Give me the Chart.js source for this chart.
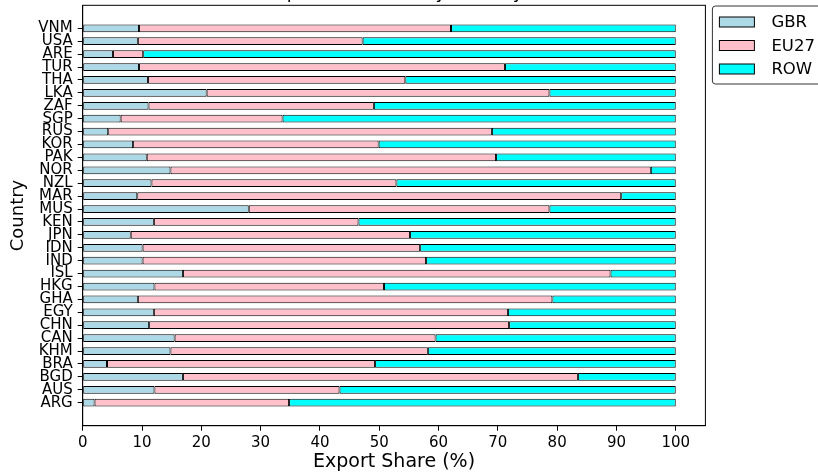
<!DOCTYPE html>
<html>
<head>
<meta charset="utf-8">
<script src="https://cdn.jsdelivr.net/npm/chart.js@4.4.0/dist/chart.umd.min.js"></script>
<style>
html, body { margin: 0; padding: 0; background: #fff; }
</style>
</head>
<body>
<canvas id="shareChart" width="818" height="472"></canvas>
<script>
// bottom to top, same order as the y axis
const countries = ['ARG', 'AUS', 'BGD', 'BRA', 'KHM', 'CAN', 'CHN', 'EGY', 'GHA', 'HKG',
    'ISL', 'IND', 'IDN', 'JPN', 'KEN', 'MUS', 'MAR', 'NZL', 'NOR', 'PAK',
    'KOR', 'RUS', 'SGP', 'ZAF', 'LKA', 'THA', 'TUR', 'ARE', 'USA', 'VNM'];

const gbrShare = [2.0, 12.1, 16.9, 4.1, 14.8, 15.5, 11.2, 12.0, 9.3, 12.1,
    16.9, 10.1, 10.1, 8.1, 12.0, 28.0, 9.2, 11.6, 14.8, 10.8,
    8.5, 4.3, 6.4, 11.1, 20.9, 11.0, 9.5, 5.1, 9.3, 9.5];

const eu27Share = [32.8, 31.2, 66.6, 45.2, 43.4, 44.0, 60.7, 59.7, 69.9, 38.7,
    72.1, 47.8, 46.8, 47.1, 34.5, 50.7, 81.6, 41.3, 81.0, 58.9,
    41.4, 64.7, 27.3, 38.0, 57.8, 43.4, 61.7, 5.1, 37.9, 52.6];

const rowShare = [65.2, 56.7, 16.5, 50.7, 41.8, 40.5, 28.1, 28.3, 20.8, 49.2,
    11.0, 42.1, 43.1, 44.8, 53.5, 21.3, 9.2, 47.1, 4.2, 30.3,
    50.1, 31.0, 66.3, 50.9, 21.3, 45.6, 28.8, 89.8, 52.8, 37.9];

const xTicks = [0, 10, 20, 30, 40, 50, 60, 70, 80, 90, 100];
const seriesNames = ['GBR', 'EU27', 'ROW'];
const seriesColors = ['#add8e6', '#ffc0cb', '#00ffff'];
const chartTitle = 'Export Share (%) by Country';

const fontFamily = '"DejaVu Sans", sans-serif';

function toPoints(values) {
    return values.map((v, i) => ({ x: v, y: i }));
}

// frame round the axes, the cut-off title and the boxed legend
const framePlugin = {
    id: 'framePlugin',
    afterDraw(chart) {
        const ctx = chart.ctx;
        const area = chart.chartArea;
        ctx.save();

        ctx.strokeStyle = '#000';
        ctx.lineWidth = 1;
        ctx.strokeRect(area.left, area.top, area.right - area.left, area.bottom - area.top);

        ctx.fillStyle = '#000';
        ctx.font = '18px ' + fontFamily;
        ctx.textAlign = 'center';
        ctx.textBaseline = 'alphabetic';
        ctx.fillText(chartTitle, (area.left + area.right) / 2, -2);

        // legend
        const bx = area.right + 7, by = 6;
        ctx.beginPath();
        ctx.roundRect(bx, by, 140, 78, 3);
        ctx.fillStyle = '#fff';
        ctx.fill();
        ctx.strokeStyle = '#333';
        ctx.stroke();

        ctx.font = '16.5px ' + fontFamily;
        ctx.textAlign = 'left';
        ctx.textBaseline = 'middle';
        chart.data.datasets.forEach((ds, i) => {
            const cy = by + 16 + i * 23.5;
            ctx.fillStyle = ds.backgroundColor;
            ctx.fillRect(bx + 7, cy - 5, 35, 10);
            ctx.strokeStyle = '#000';
            ctx.strokeRect(bx + 7, cy - 5, 35, 10);
            ctx.fillStyle = '#000';
            ctx.fillText(ds.label, bx + 59, cy + 1);
        });
        ctx.restore();
    }
};

const chart = new Chart(document.getElementById('shareChart').getContext('2d'), {
    type: 'bar',
    data: {
        datasets: [gbrShare, eu27Share, rowShare].map((values, i) => ({
            label: seriesNames[i],
            data: toPoints(values),
            backgroundColor: seriesColors[i],
            borderColor: '#000',
            borderWidth: 1,
            borderSkipped: false,
            categoryPercentage: 1,
            barPercentage: 0.6
        }))
    },
    options: {
        indexAxis: 'y',
        responsive: false,
        animation: false,
        layout: { padding: { left: 0, right: 112.6, top: 5.3, bottom: 0 } },
        plugins: {
            legend: { display: false },
            tooltip: { enabled: false },
            title: { display: false }
        },
        scales: {
            x: {
                type: 'linear',
                stacked: true,
                min: 0,
                max: 105,
                afterBuildTicks: (scale) => { scale.ticks = xTicks.map(v => ({ value: v })); },
                afterFit: (scale) => {
                    scale.height = 46.3;
                    scale.paddingLeft = 0;
                    scale.paddingRight = 0;
                },
                grid: { drawOnChartArea: false, tickLength: 5, color: '#000' },
                border: { display: true, color: '#000' },
                ticks: { color: '#000', padding: 3, font: { family: fontFamily, size: 15 } },
                title: {
                    display: true,
                    text: 'Export Share (%)',
                    color: '#000',
                    padding: { top: 0, bottom: 0 },
                    font: { family: fontFamily, size: 19, lineHeight: 1 }
                }
            },
            y: {
                type: 'linear',
                stacked: true,
                offset: false,
                min: -1.78,
                max: 30.78,
                afterBuildTicks: (scale) => { scale.ticks = countries.map((c, i) => ({ value: i })); },
                afterFit: (scale) => {
                    scale.width = 82.7;
                    scale.paddingTop = 0;
                    scale.paddingBottom = 0;
                },
                grid: { drawOnChartArea: false, offset: false, tickLength: 5, color: '#000' },
                border: { display: true, color: '#000' },
                ticks: {
                    color: '#000',
                    padding: 5,
                    autoSkip: false,
                    font: { family: fontFamily, size: 15 },
                    callback: (value) => countries[value]
                },
                title: {
                    display: true,
                    text: 'Country',
                    color: '#000',
                    padding: { top: 9.5, bottom: 0 },
                    font: { family: fontFamily, size: 18, lineHeight: 1 }
                }
            }
        }
    },
    plugins: [framePlugin]
});
</script>
</body>
</html>
